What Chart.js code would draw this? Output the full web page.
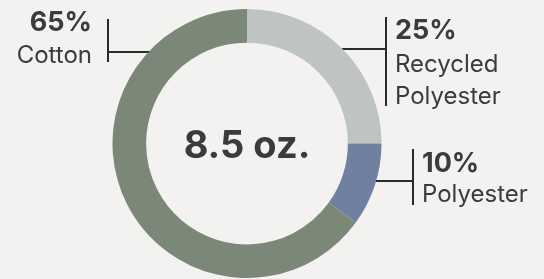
<!DOCTYPE html>
<html>
<head>
<meta charset="utf-8">
<script src="https://cdn.jsdelivr.net/npm/chart.js@4"></script>
<style>
  html, body { margin: 0; padding: 0; background: #f3f2f0; }
  #wrap { width: 544px; height: 279px; position: relative; }
</style>
</head>
<body>
<div id="wrap"><canvas id="c" width="544" height="279"></canvas></div>
<script>
const categories = ["Recycled Polyester", "Polyester", "Cotton"];
const shares = [25, 10, 65];
const percentLabels = ["25%", "10%", "65%"];
const nameLines = [["Recycled", "Polyester"], ["Polyester"], ["Cotton"]];
const centerLabel = "8.5 oz.";
const colors = ["#bfc4c3", "#6f80a0", "#7b8878"];

const FONT = "Inter, Roboto, 'Liberation Sans', sans-serif";
const TEXT = "#3b3b3b";
const LINE = "#2b2b2b";

// callout layout: side, bracket x, bracket top/bottom, horizontal y, text x, baselines
const callouts = [
  { side: "right", bx: 386, top: 17, bottom: 106, hy: 49, tx: 395, pctY: 39, lineYs: [72, 104] },
  { side: "right", bx: 413, top: 149, bottom: 205, hy: 181, tx: 422, pctY: 172, lineYs: [202] },
  { side: "left",  bx: 108, top: 19, bottom: 62, hy: 52, tx: 92, pctY: 31, lineYs: [63] }
];

const calloutPlugin = {
  id: "callouts",
  beforeDatasetsDraw(chart) {
    const ctx = chart.ctx;
    const arc = chart.getDatasetMeta(0).data[0];
    const cx = arc.x, cy = arc.y, r = arc.outerRadius;
    ctx.save();
    ctx.strokeStyle = LINE;
    ctx.lineWidth = 2;
    callouts.forEach(c => {
      const dy = c.hy - cy;
      const dx = Math.sqrt(Math.max(r * r - dy * dy, 0));
      const edgeX = c.side === "right" ? cx + dx - 4 : cx - dx + 4;
      ctx.beginPath();
      ctx.moveTo(c.bx, c.top);
      ctx.lineTo(c.bx, c.bottom);
      ctx.moveTo(c.bx, c.hy);
      ctx.lineTo(edgeX, c.hy);
      ctx.stroke();
    });
    ctx.restore();
  },
  afterDatasetsDraw(chart) {
    const ctx = chart.ctx;
    const arc = chart.getDatasetMeta(0).data[0];
    ctx.save();
    ctx.fillStyle = TEXT;
    ctx.textBaseline = "alphabetic";
    callouts.forEach((c, i) => {
      ctx.textAlign = c.side === "right" ? "left" : "right";
      ctx.font = "bold 27px " + FONT;
      ctx.fillText(percentLabels[i], c.tx, c.pctY);
      ctx.font = "24px " + FONT;
      nameLines[i].forEach((t, j) => ctx.fillText(t, c.tx, c.lineYs[j]));
    });
    ctx.textAlign = "center";
    ctx.font = "bold 38px " + FONT;
    ctx.fillText(centerLabel, arc.x, arc.y + 14);
    ctx.restore();
  }
};

new Chart(document.getElementById("c"), {
  type: "doughnut",
  data: {
    labels: categories,
    datasets: [{
      data: shares,
      backgroundColor: colors,
      borderWidth: 0,
      hoverOffset: 0
    }]
  },
  options: {
    responsive: false,
    maintainAspectRatio: false,
    animation: false,
    cutout: "75%",
    rotation: 0,
    layout: { padding: { left: 112.5, right: 162.5, top: 9, bottom: 1 } },
    plugins: { legend: { display: false }, tooltip: { enabled: false } }
  },
  plugins: [calloutPlugin]
});
</script>
</body>
</html>
